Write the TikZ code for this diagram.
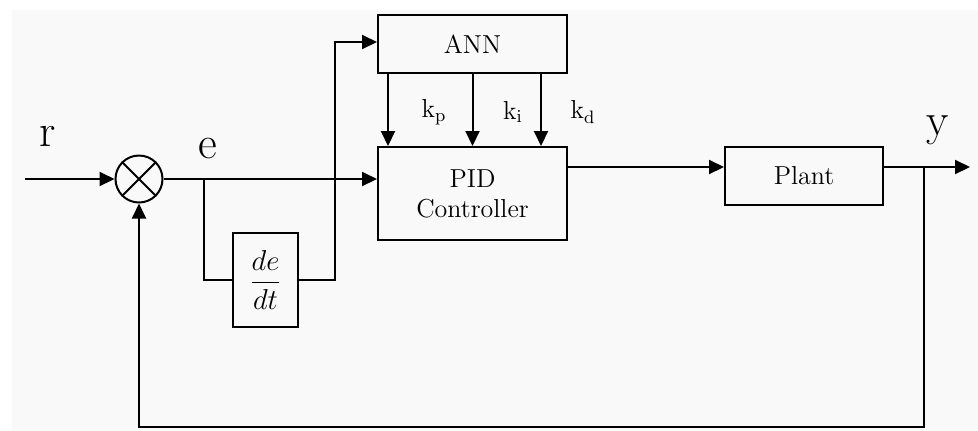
\documentclass[tikz,border=0pt]{standalone}
\usetikzlibrary{arrows.meta}
\begin{document}
\begin{tikzpicture}[x=0.5pt,y=-0.5pt,
  blk/.style={draw, line width=1pt, rectangle, inner sep=0pt, font=\fontsize{13}{15}\selectfont},
  sig/.style={line width=1pt, -{Triangle[length=7.5pt,width=7pt]}},
  wire/.style={line width=1pt},
  lbl/.style={font=\fontsize{23}{26}\selectfont, inner sep=0pt},
  klbl/.style={font=\fontsize{13}{15}\selectfont, inner sep=0pt}]
\useasboundingbox (0,0) rectangle (978,430);
\fill[white] (0,0) rectangle (978,430);
\fill[black!2.5] (12,10) rectangle (978,430);
% blocks
\node[blk, minimum width=94.5pt, minimum height=29pt] (ann) at (472.5,44) {ANN};
\node[blk, minimum width=94.5pt, minimum height=46.5pt, align=center] (pid) at (472.5,193.5) {PID\\[0pt]Controller};
\node[blk, minimum width=79pt, minimum height=29pt] (plant) at (804,176) {Plant};
\node[blk, minimum width=32.5pt, minimum height=47pt] (der) at (265.5,280) {\fontsize{14}{16}\selectfont$\displaystyle\frac{de}{dt}$};
\node[draw, circle, line width=1pt, minimum size=23.5pt, inner sep=0pt] (sum) at (139,179) {};
\draw[line width=1pt] (sum.45) -- (sum.225) (sum.135) -- (sum.315);
% coordinates
\coordinate (rin) at (25,179);
\coordinate (br) at (204,179);
\coordinate (dtop) at (335,42);
\coordinate (yb) at (924,167);
\coordinate (yout) at (970,167);
\coordinate (ybot) at (924,427);
\coordinate (kpx) at (388,0);
\coordinate (kdx) at (541,0);
% labels
\node[lbl] (r) at (48,136) {r};
\node[lbl] (e) at (208,149) {e};
\node[lbl] (y) at (938,130) {y};
\node[klbl] (kp) at (434,112) {k$_\mathrm{p}$};
\node[klbl] (ki) at (513,112) {k$_\mathrm{i}$};
\node[klbl] (kd) at (583,112) {k$_\mathrm{d}$};
% connectors
\draw[sig] (rin) -- (sum.west);
\draw[sig] (sum.east) -- (pid.west |- sum.east);
\draw[wire] (br) |- (der.west);
\draw[sig] (der.east) -| (dtop) -- (ann.west |- dtop);
\draw[sig] (ann.south -| kpx) -- (pid.north -| kpx);
\draw[sig] (ann.south) -- (pid.north -| ann.south);
\draw[sig] (ann.south -| kdx) -- (pid.north -| kdx);
\draw[sig] (pid.east |- yb) -- (plant.west |- yb);
\draw[sig] (plant.east |- yb) -- (yout);
\draw[sig] (yb) -- (ybot) -| (sum.south);
\end{tikzpicture}
\end{document}
